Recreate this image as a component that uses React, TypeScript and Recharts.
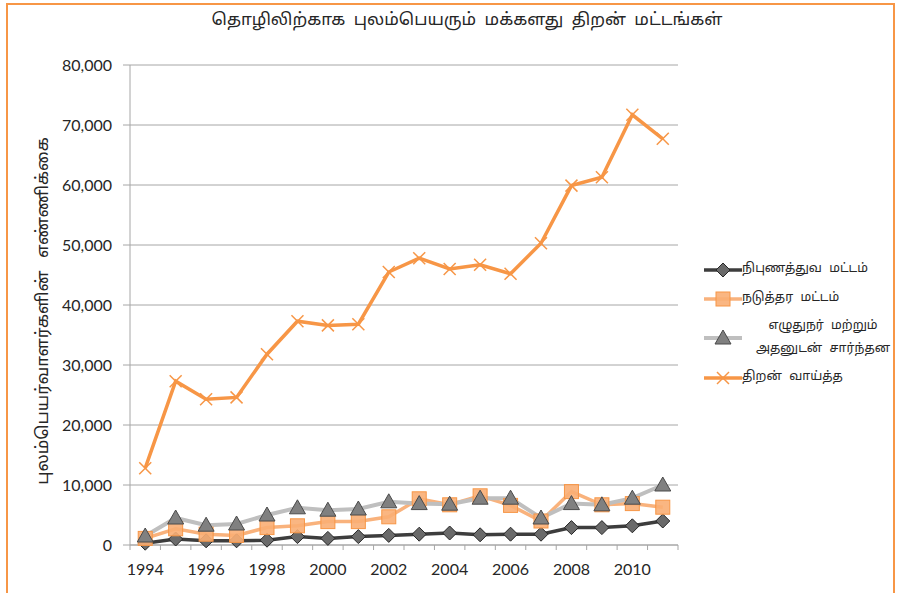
import React from "react";
import { LineChart, Line, XAxis, YAxis, CartesianGrid, Label } from "recharts";

const years = [1994, 1995, 1996, 1997, 1998, 1999, 2000, 2001, 2002, 2003, 2004, 2005, 2006, 2007, 2008, 2009, 2010, 2011];
const professional = [300, 1000, 700, 700, 800, 1400, 1100, 1400, 1600, 1800, 2000, 1700, 1800, 1800, 2900, 2900, 3200, 4000];
const middle = [1100, 2700, 1800, 1600, 2900, 3200, 3900, 3900, 4700, 7700, 6700, 8200, 6600, 4000, 8900, 6700, 6900, 6300];
const clerical = [1500, 4500, 3300, 3500, 5000, 6200, 5800, 6000, 7200, 6900, 6800, 7800, 7800, 4500, 6900, 6700, 7800, 10000];
const skilled = [12800, 27300, 24300, 24600, 31800, 37300, 36600, 36800, 45500, 47800, 46000, 46700, 45200, 50300, 59900, 61300, 71700, 67700];

const yTicks = [0, 10000, 20000, 30000, 40000, 50000, 60000, 70000, 80000];
const xLabelYears = [1994, 1996, 1998, 2000, 2002, 2004, 2006, 2008, 2010];
const xBoundaries = [1993.5, 1994.5, 1995.5, 1996.5, 1997.5, 1998.5, 1999.5, 2000.5, 2001.5, 2002.5, 2003.5, 2004.5, 2005.5, 2006.5, 2007.5, 2008.5, 2009.5, 2010.5, 2011.5];

const title = "தொழிலிற்காக புலம்பெயரும் மக்களது திறன் மட்டங்கள்";
const yTitle = "புலம்பெயர்வாளர்களின் எண்ணிக்கை";

const seriesNames = {
  professional: "நிபுணத்துவ மட்டம்",
  middle: "நடுத்தர மட்டம்",
  clerical: "எழுதுநர் மற்றும்\nஅதனுடன் சார்ந்தன",
  skilled: "திறன் வாய்த்த",
};

const data = years.map((y, i) => ({
  year: y,
  professional: professional[i],
  middle: middle[i],
  clerical: clerical[i],
  skilled: skilled[i],
}));

const TAMIL = "'Noto Sans Tamil', 'Latha', 'Lohit Tamil', 'Noto Sans', sans-serif";
const NUM = "Lato, 'Noto Sans', sans-serif";

type MarkerKind = "diamond" | "square" | "triangle" | "x";

const Marker = ({ kind, cx, cy }: { kind: MarkerKind; cx: number; cy: number }) => {
  if (cx == null || cy == null || isNaN(cx) || isNaN(cy)) return null;
  if (kind === "diamond") {
    const r = 7;
    return (
      <polygon
        points={`${cx},${cy - r} ${cx + r},${cy} ${cx},${cy + r} ${cx - r},${cy}`}
        fill="#6a6a6a"
        stroke="#262626"
        strokeWidth={1}
      />
    );
  }
  if (kind === "square") {
    const r = 7;
    return <rect x={cx - r} y={cy - r} width={2 * r} height={2 * r} fill="#F9AE74" fillOpacity={0.9} stroke="#F79646" strokeWidth={1} />;
  }
  if (kind === "triangle") {
    return (
      <polygon
        points={`${cx},${cy - 8} ${cx + 8},${cy + 6} ${cx - 8},${cy + 6}`}
        fill="#808080"
        stroke="#4a4a4a"
        strokeWidth={1}
      />
    );
  }
  const r = 6;
  return (
    <g stroke="#F79646" strokeWidth={1.5}>
      <line x1={cx - r} y1={cy - r} x2={cx + r} y2={cy + r} />
      <line x1={cx - r} y1={cy + r} x2={cx + r} y2={cy - r} />
    </g>
  );
};

const seriesDefs: { key: keyof typeof seriesNames; color: string; width: number; kind: MarkerKind }[] = [
  { key: "professional", color: "#3d3d3d", width: 3.5, kind: "diamond" },
  { key: "middle", color: "#F9B27C", width: 3.5, kind: "square" },
  { key: "clerical", color: "#BFBFBF", width: 4, kind: "triangle" },
  { key: "skilled", color: "#F79646", width: 3.5, kind: "x" },
];

const XTick = (props: any) => {
  const { x, y, payload } = props;
  const v = payload.value;
  if (v % 1 !== 0) {
    return <line x1={x} x2={x} y1={y - 5} y2={y} stroke="#A6A6A6" strokeWidth={1} />;
  }
  return (
    <text x={x} y={y + 25} textAnchor="middle" fontFamily={NUM} fontSize={16} fill="#262626">
      {v}
    </text>
  );
};

const fmt = (v: number) => v.toLocaleString("en-US");

export default function App() {
  return (
    <div style={{ position: "absolute", left: 0, top: 0, width: 897, height: 593, background: "#fff", overflow: "hidden" }}>
      <div
        style={{
          position: "absolute",
          left: 6,
          top: 3,
          width: 885,
          height: 620,
          border: "2px solid #F79646",
        }}
      />
      <div
        style={{
          position: "absolute",
          left: 0,
          width: 934,
          top: 10,
          textAlign: "center",
          fontFamily: TAMIL,
          fontSize: 17,
          color: "#262626",
          wordSpacing: 4,
          whiteSpace: "nowrap",
        }}
      >
        {title}
      </div>
      <div style={{ position: "absolute", left: 0, top: 0 }}>
        <LineChart width={897} height={593} data={data} margin={{ top: 65, right: 219, bottom: 0, left: 0 }}>
          <CartesianGrid vertical={false} stroke="#A6A6A6" strokeWidth={1} />
          <XAxis
            dataKey="year"
            type="number"
            domain={[1993.5, 2011.5]}
            ticks={[...xBoundaries, ...xLabelYears]}
            interval={0}
            height={48}
            tickLine={false}
            tickSize={5}
            tickMargin={0}
            axisLine={{ stroke: "#A6A6A6" }}
            tick={<XTick />}
          />
          <YAxis
            width={130}
            domain={[0, 80000]}
            ticks={yTicks}
            interval={0}
            tickFormatter={fmt}
            tickSize={7}
            tickMargin={11}
            axisLine={{ stroke: "#A6A6A6" }}
            tickLine={{ stroke: "#A6A6A6" }}
            tick={{ fontFamily: NUM, fontSize: 16, fill: "#262626" }}
          >
            <Label
              value={yTitle}
              angle={-90}
              position="insideLeft"
              offset={42}
              dy={6}
              style={{ fontFamily: TAMIL, fontSize: 17, fill: "#262626", textAnchor: "middle", wordSpacing: 8 }}
            />
          </YAxis>
          {seriesDefs.map((s) => (
            <Line
              key={s.key}
              dataKey={s.key}
              name={seriesNames[s.key]}
              stroke={s.color}
              strokeWidth={s.width}
              isAnimationActive={false}
              dot={(p: any) => <Marker key={`${s.key}-${p.index}`} kind={s.kind} cx={p.cx} cy={p.cy} />}
              activeDot={false}
            />
          ))}
        </LineChart>
      </div>
      <div style={{ position: "absolute", left: 704, top: 255, fontFamily: TAMIL, fontSize: 12.5, color: "#262626" }}>
        {seriesDefs.map((s) => {
          const lines = seriesNames[s.key].split("\n");
          const two = lines.length > 1;
          return (
            <div key={s.key} style={{ display: "flex", alignItems: "center", height: two ? 50 : 29 }}>
              <svg width={38} height={20} style={{ flex: "none" }}>
                <line x1={0} y1={10} x2={38} y2={10} stroke={s.color} strokeWidth={s.width} />
                <Marker kind={s.kind} cx={19} cy={10} />
              </svg>
              <div style={{ textAlign: two ? "center" : "left", lineHeight: "23px", wordSpacing: 4, whiteSpace: "nowrap", marginLeft: two ? 14 : 0 }}>
                {lines.map((l, i) => (
                  <div key={i}>{l}</div>
                ))}
              </div>
            </div>
          );
        })}
      </div>
    </div>
  );
}
